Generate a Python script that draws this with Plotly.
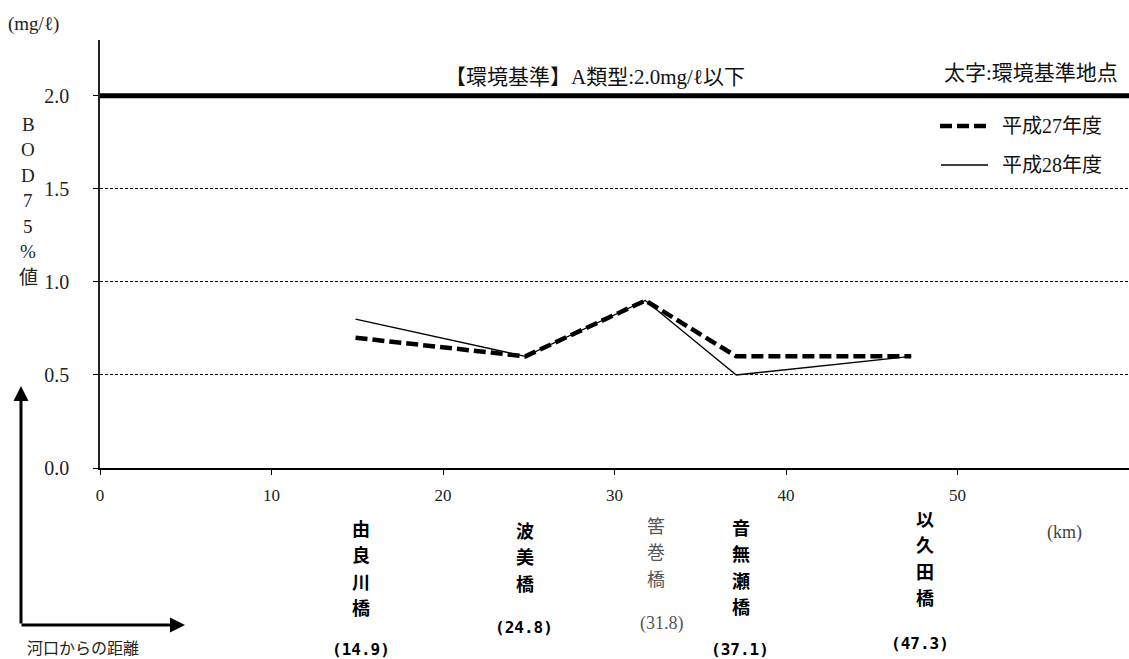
import plotly.graph_objects as go

# ---------------- data ----------------
stations = ["由良川橋", "波美橋", "筈巻橋", "音無瀬橋", "以久田橋"]
distance_km = [14.9, 24.8, 31.8, 37.1, 47.3]
bod_h27 = [0.7, 0.6, 0.9, 0.6, 0.6]
bod_h28 = [0.8, 0.6, 0.9, 0.5, 0.6]
is_standard_point = [True, True, False, True, True]
x_tick_vals = [0, 10, 20, 30, 40, 50]
y_tick_vals = [0.0, 0.5, 1.0, 1.5, 2.0]
y_tick_text = ["0.0", "0.5", "1.0", "1.5", "2.0"]
standard_value = 2.0
series_names = ["平成27年度", "平成28年度"]

# ---------------- layout helpers ----------------
W, H = 1129, 659
L, R, T, B = 100, 0, 40, 191
PW, PH = W - L - R, H - T - B


def px(xp):
    return (xp - L) / PW


def py(yp):
    return (H - B - yp) / PH


SERIF = "Liberation Serif, Noto Sans CJK JP"
GOTHIC = "Noto Sans CJK JP"
MONO = "DejaVu Sans Mono"

fig = go.Figure()
fig.add_trace(go.Scatter(
    x=distance_km, y=bod_h27, mode="lines", name=series_names[0],
    line=dict(color="black", width=4.5, dash="12px,5px"), showlegend=False))
fig.add_trace(go.Scatter(
    x=distance_km, y=bod_h28, mode="lines", name=series_names[1],
    line=dict(color="black", width=1.3), showlegend=False))

shapes = []
# environmental standard line
shapes.append(dict(type="line", xref="paper", yref="y", x0=0, x1=1,
                   y0=standard_value, y1=standard_value,
                   line=dict(color="black", width=5), layer="above"))
# legend samples
shapes.append(dict(type="line", xref="paper", yref="paper",
                   x0=px(940), x1=px(989), y0=py(126), y1=py(126),
                   line=dict(color="black", width=4.5, dash="12px,5px")))
shapes.append(dict(type="line", xref="paper", yref="paper",
                   x0=px(941), x1=px(988), y0=py(165), y1=py(165),
                   line=dict(color="black", width=1.3)))

ann = []


def text(x, y, s, size=18, family=SERIF, color="black", xanchor="center",
         xref="paper", xshift=0):
    ann.append(dict(x=x, y=y, xref=xref, yref="paper", text=s, showarrow=False,
                    font=dict(size=size, family=family, color=color),
                    xanchor=xanchor, yanchor="middle", xshift=xshift))


text(px(6), py(24), "(mg/ℓ)", size=19, xanchor="left", color="#222")
text(px(595), py(77), "【環境基準】A類型:2.0mg/ℓ以下", size=21, color="#111")
text(px(1120), py(73), "太字:環境基準地点", size=21, xanchor="right", color="#111")
text(px(1000), py(126), series_names[0], size=20, xanchor="left", color="#111")
text(px(1000), py(165), series_names[1], size=20, xanchor="left", color="#111")

# vertical y-axis title
for i, ch in enumerate(["B", "O", "D", "7", "5", "%", "値"]):
    text(px(28), py(124 + i * 25.5), ch, size=19, color="#222")

# station labels (vertical text + distance)
label_shift = [5, 0, 11, 5, 14]
num_shift = [5, -1, 17, 4, 9]
label_top = [528, 530, 525, 527, 518]
num_y = [649, 627, 623, 649, 643]
for k, name in enumerate(stations):
    bold = is_standard_point[k]
    for i, ch in enumerate(name):
        if bold:
            s = "<b>" + ch + "</b>"
            text(distance_km[k], py(label_top[k] + i * 26.3), s, size=18,
                 family=GOTHIC, xref="x", xshift=label_shift[k])
        else:
            text(distance_km[k], py(label_top[k] + i * 26.3), ch, size=18,
                 family=GOTHIC, color="#555", xref="x", xshift=label_shift[k])
    if bold:
        text(distance_km[k], py(num_y[k]), "<b>(%.1f)</b>" % distance_km[k],
             size=16, family=MONO, xref="x", xshift=num_shift[k])
    else:
        text(distance_km[k], py(num_y[k]), "(%.1f)" % distance_km[k],
             size=18, family=SERIF, color="#555", xref="x", xshift=num_shift[k])

text(px(1064), py(532), "(km)", size=18, color="#444")
text(px(25), py(648), "河口からの距離", size=16, xanchor="left", color="#222")

# bottom-left arrows
ann.append(dict(x=px(21), y=py(386), xref="paper", yref="paper",
                ax=0, ay=625 - 386, axref="pixel", ayref="pixel",
                showarrow=True, arrowhead=2, arrowsize=1, arrowwidth=3,
                arrowcolor="black", text=""))
ann.append(dict(x=px(185), y=py(625), xref="paper", yref="paper",
                ax=-(185 - 20), ay=0, axref="pixel", ayref="pixel",
                showarrow=True, arrowhead=2, arrowsize=1, arrowwidth=3,
                arrowcolor="black", text=""))

fig.update_layout(
    width=W, height=H,
    margin=dict(l=L, r=R, t=T, b=B, pad=0),
    paper_bgcolor="white", plot_bgcolor="white",
    shapes=shapes, annotations=ann, showlegend=False,
    xaxis=dict(range=[0, 60], tickvals=x_tick_vals, ticks="outside",
               ticklen=5, tickwidth=1.2, tickcolor="black",
               showline=True, linecolor="black", linewidth=2,
               showgrid=False, zeroline=False, ticklabelstandoff=6,
               tickfont=dict(size=17, family=SERIF, color="#222")),
    yaxis=dict(range=[0, 2.3], tickvals=y_tick_vals, ticktext=y_tick_text,
               ticks="outside", ticklen=5, tickwidth=1.2, tickcolor="black",
               showline=True, linecolor="#222", linewidth=1.5,
               showgrid=True, gridcolor="black", gridwidth=1,
               griddash="3px,2px", zeroline=False, ticklabelstandoff=20,
               tickfont=dict(size=20, family=SERIF, color="#222")),
)

fig.write_html(
    "out.html",
    config={"displayModeBar": False},
    post_script="document.body.style.margin='0';document.body.style.padding='0';"
                "document.body.style.overflow='hidden';",
)
